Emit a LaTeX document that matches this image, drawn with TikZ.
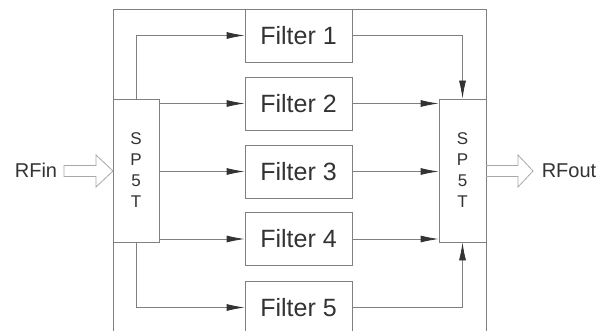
\documentclass[tikz,border=0pt]{standalone}
\usepackage{fontspec}
\setmainfont{Liberation Sans}
\usetikzlibrary{arrows.meta}
\definecolor{linegray}{HTML}{808080}
\definecolor{hollowgray}{HTML}{A8A8A8}
\definecolor{txtgray}{HTML}{333333}
\begin{document}
\begin{tikzpicture}[x=1pt,y=-1pt,
  box/.style={draw=linegray,line width=0.8pt,inner sep=0pt,text=txtgray},
  filterbox/.style={box,minimum width=107pt,minimum height=53pt,font=\fontsize{25}{28}\selectfont},
  switchbox/.style={box,minimum width=46pt,minimum height=143pt,align=center,font=\fontsize{17}{21}\selectfont},
  arr/.style={draw=linegray,line width=0.8pt,-{Latex[length=18pt,width=7pt,color=txtgray]}},
  plain/.style={draw=linegray,line width=0.8pt},
  hollow/.style={draw=hollowgray,line width=0.8pt,line join=miter},
  lbl/.style={text=txtgray,inner sep=0pt,font=\fontsize{20}{24}\selectfont}]
\useasboundingbox (0,0) rectangle (605,331);
\clip (0,0) rectangle (605,331);
\fill[white] (0,0) rectangle (605,331);
% outer frame
\coordinate (oTL) at (113,9);
\coordinate (oTR) at (486,9);
\coordinate (oBL) at (113,335);
\coordinate (oBR) at (486,335);
\draw[plain] (oBL) -- (oTL) -- (oTR) -- (oBR);
% switches
\node[switchbox,fill=white] (sw1) at (136,170.5) {S\\P\\5\\T};
\node[switchbox,minimum width=47pt,fill=white] (sw2) at (462.5,170.5) {S\\P\\5\\T};
% filters
\node[filterbox,fill=white] (f1) at (298.5,35.5) {Filter 1};
\node[filterbox] (f2) at (298.5,103.5) {Filter 2};
\node[filterbox] (f3) at (298.5,171.5) {Filter 3};
\node[filterbox] (f4) at (298.5,239) {Filter 4};
\node[filterbox] (f5) at (298.5,307.5) {Filter 5};
% connectors from input switch
\draw[arr] (sw1.north) |- (f1.west);
\draw[arr] (sw1.east |- f2.west) -- (f2.west);
\draw[arr] (sw1.east |- f3.west) -- (f3.west);
\draw[arr] (sw1.east |- f4.west) -- (f4.west);
\draw[arr] (sw1.south) |- (f5.west);
% connectors to output switch
\draw[arr] (f1.east) -| (sw2.north);
\draw[arr] (f2.east) -- (sw2.west |- f2.east);
\draw[arr] (f3.east) -- (sw2.west |- f3.east);
\draw[arr] (f4.east) -- (sw2.west |- f4.east);
\draw[arr] (f5.east) -| (sw2.south);
% labels
\node[lbl] (rfin) at (36,170.5) {RFin};
\node[lbl] (rfout) at (569,170.5) {RFout};
% hollow arrows
\draw[hollow] (64,165.5) -- (96,165.5) -- (96,155) -- (113,171) -- (96,187) -- (96,176.5) -- (64,176.5) -- cycle;
\draw[hollow] (486,165.5) -- (518,165.5) -- (518,155) -- (533,171) -- (518,187) -- (518,176.5) -- (486,176.5);
\end{tikzpicture}
\end{document}
